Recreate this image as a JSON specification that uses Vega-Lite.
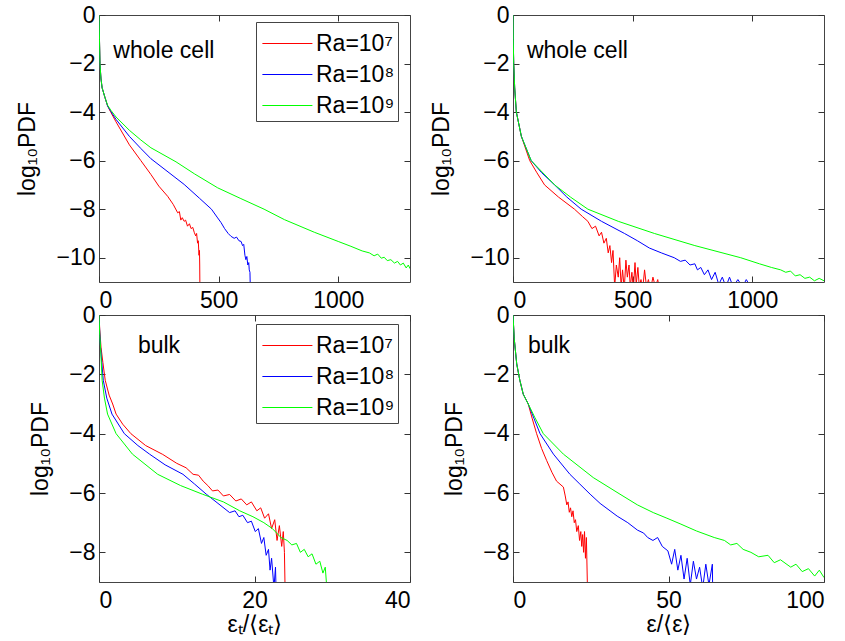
{
  "$schema": "https://vega.github.io/schema/vega-lite/v6.json",
  "background": "white",
  "padding": {"left": 16, "top": 3, "right": 10, "bottom": 3},
  "bounds": "flush",
  "columns": 2,
  "spacing": {"row": 33, "column": 103},
  "resolve": {"scale": {"color": "independent"}, "legend": {"color": "independent"}},
  "config": {
    "font": "Liberation Sans",
    "view": {"stroke": "#444", "strokeWidth": 1},
    "axis": {"labelFont": "Liberation Sans", "labelFontSize": 23, "labelColor": "#000", "titleFont": "Liberation Sans", "titleFontSize": 23, "titleFontWeight": "normal", "titleColor": "#000", "grid": false, "domain": false, "tickColor": "#333", "tickWidth": 1, "tickSize": -6, "labelExpr": "datum.value < 0 ? '−' + (-datum.value) : '' + datum.value"},
    "axisY": {"titlePadding": 16, "labelPadding": 10},
    "axisX": {"titlePadding": 1, "labelPadding": 13},
    "legend": {"labelFont": "Liberation Sans", "labelFontSize": 23, "labelColor": "#000"},
    "text": {"font": "Liberation Sans", "fontSize": 23}
  },
  "datasets": {
    "p1": [
      {"s":"Ra=10⁷","x":0,"y":0},{"s":"Ra=10⁷","x":2,"y":-1},{"s":"Ra=10⁷","x":4,"y":-2},{"s":"Ra=10⁷","x":8,"y":-2.6},{"s":"Ra=10⁷","x":13,"y":-3.0},{"s":"Ra=10⁷","x":25,"y":-3.4},{"s":"Ra=10⁷","x":36,"y":-3.75},{"s":"Ra=10⁷","x":50,"y":-4.02},{"s":"Ra=10⁷","x":71,"y":-4.4},{"s":"Ra=10⁷","x":127,"y":-5.35},{"s":"Ra=10⁷","x":175,"y":-6.0},{"s":"Ra=10⁷","x":217,"y":-6.57},{"s":"Ra=10⁷","x":250,"y":-7.05},{"s":"Ra=10⁷","x":287,"y":-7.47},{"s":"Ra=10⁷","x":310,"y":-7.8},{"s":"Ra=10⁷","x":329,"y":-8.15},{"s":"Ra=10⁷","x":336,"y":-8.1},{"s":"Ra=10⁷","x":342,"y":-8.45},{"s":"Ra=10⁷","x":348,"y":-8.35},{"s":"Ra=10⁷","x":356,"y":-8.5},{"s":"Ra=10⁷","x":362,"y":-8.45},{"s":"Ra=10⁷","x":370,"y":-8.7},{"s":"Ra=10⁷","x":378,"y":-8.6},{"s":"Ra=10⁷","x":385,"y":-8.8},{"s":"Ra=10⁷","x":392,"y":-8.75},{"s":"Ra=10⁷","x":398,"y":-8.95},{"s":"Ra=10⁷","x":404,"y":-9.1},{"s":"Ra=10⁷","x":408,"y":-9.0},{"s":"Ra=10⁷","x":412,"y":-9.4},{"s":"Ra=10⁷","x":415,"y":-9.3},{"s":"Ra=10⁷","x":418,"y":-9.9},{"s":"Ra=10⁷","x":420,"y":-9.7},{"s":"Ra=10⁷","x":421,"y":-10.3},{"s":"Ra=10⁷","x":422,"y":-11.5},
      {"s":"Ra=10⁸","x":0,"y":0},{"s":"Ra=10⁸","x":2,"y":-1},{"s":"Ra=10⁸","x":4,"y":-2},{"s":"Ra=10⁸","x":8,"y":-2.6},{"s":"Ra=10⁸","x":13,"y":-3.0},{"s":"Ra=10⁸","x":25,"y":-3.4},{"s":"Ra=10⁸","x":36,"y":-3.75},{"s":"Ra=10⁸","x":50,"y":-3.98},{"s":"Ra=10⁸","x":71,"y":-4.3},{"s":"Ra=10⁸","x":127,"y":-5.0},{"s":"Ra=10⁸","x":175,"y":-5.5},{"s":"Ra=10⁸","x":217,"y":-5.92},{"s":"Ra=10⁸","x":280,"y":-6.4},{"s":"Ra=10⁸","x":356,"y":-6.98},{"s":"Ra=10⁸","x":420,"y":-7.55},{"s":"Ra=10⁸","x":470,"y":-8.0},{"s":"Ra=10⁸","x":496,"y":-8.36},{"s":"Ra=10⁸","x":510,"y":-8.55},{"s":"Ra=10⁸","x":525,"y":-8.8},{"s":"Ra=10⁸","x":540,"y":-9.0},{"s":"Ra=10⁸","x":552,"y":-9.12},{"s":"Ra=10⁸","x":565,"y":-9.2},{"s":"Ra=10⁸","x":575,"y":-9.15},{"s":"Ra=10⁸","x":585,"y":-9.3},{"s":"Ra=10⁸","x":594,"y":-9.33},{"s":"Ra=10⁸","x":600,"y":-9.5},{"s":"Ra=10⁸","x":605,"y":-9.45},{"s":"Ra=10⁸","x":610,"y":-9.9},{"s":"Ra=10⁸","x":614,"y":-10.08},{"s":"Ra=10⁸","x":618,"y":-9.95},{"s":"Ra=10⁸","x":622,"y":-10.3},{"s":"Ra=10⁸","x":626,"y":-10.2},{"s":"Ra=10⁸","x":628,"y":-10.5},{"s":"Ra=10⁸","x":631,"y":-10.6},{"s":"Ra=10⁸","x":633,"y":-11.5},
      {"s":"Ra=10⁹","x":0,"y":0},{"s":"Ra=10⁹","x":2,"y":-1},{"s":"Ra=10⁹","x":4,"y":-2},{"s":"Ra=10⁹","x":8,"y":-2.6},{"s":"Ra=10⁹","x":13,"y":-3.0},{"s":"Ra=10⁹","x":25,"y":-3.4},{"s":"Ra=10⁹","x":36,"y":-3.72},{"s":"Ra=10⁹","x":50,"y":-3.93},{"s":"Ra=10⁹","x":71,"y":-4.2},{"s":"Ra=10⁹","x":127,"y":-4.75},{"s":"Ra=10⁹","x":175,"y":-5.15},{"s":"Ra=10⁹","x":217,"y":-5.47},{"s":"Ra=10⁹","x":322,"y":-6.05},{"s":"Ra=10⁹","x":400,"y":-6.55},{"s":"Ra=10⁹","x":496,"y":-7.12},{"s":"Ra=10⁹","x":590,"y":-7.55},{"s":"Ra=10⁹","x":690,"y":-8.0},{"s":"Ra=10⁹","x":775,"y":-8.43},{"s":"Ra=10⁹","x":900,"y":-8.95},{"s":"Ra=10⁹","x":1000,"y":-9.33},{"s":"Ra=10⁹","x":1053,"y":-9.53},{"s":"Ra=10⁹","x":1100,"y":-9.72},{"s":"Ra=10⁹","x":1130,"y":-9.8},{"s":"Ra=10⁹","x":1150,"y":-9.92},{"s":"Ra=10⁹","x":1165,"y":-9.85},{"s":"Ra=10⁹","x":1180,"y":-10.02},{"s":"Ra=10⁹","x":1192,"y":-9.98},{"s":"Ra=10⁹","x":1205,"y":-10.12},{"s":"Ra=10⁹","x":1220,"y":-10.08},{"s":"Ra=10⁹","x":1235,"y":-10.22},{"s":"Ra=10⁹","x":1248,"y":-10.15},{"s":"Ra=10⁹","x":1260,"y":-10.3},{"s":"Ra=10⁹","x":1272,"y":-10.22},{"s":"Ra=10⁹","x":1284,"y":-10.42},{"s":"Ra=10⁹","x":1293,"y":-10.3},{"s":"Ra=10⁹","x":1300,"y":-10.45}
    ],
    "p2": [
      {"s":"Ra=10⁷","x":0,"y":0},{"s":"Ra=10⁷","x":1,"y":-1},{"s":"Ra=10⁷","x":3,"y":-2},{"s":"Ra=10⁷","x":7,"y":-3},{"s":"Ra=10⁷","x":14,"y":-4},{"s":"Ra=10⁷","x":35,"y":-5},{"s":"Ra=10⁷","x":70,"y":-6},{"s":"Ra=10⁷","x":100,"y":-6.5},{"s":"Ra=10⁷","x":132,"y":-7},{"s":"Ra=10⁷","x":190,"y":-7.5},{"s":"Ra=10⁷","x":257,"y":-8},{"s":"Ra=10⁷","x":290,"y":-8.3},{"s":"Ra=10⁷","x":313,"y":-8.5},{"s":"Ra=10⁷","x":330,"y":-8.8},{"s":"Ra=10⁷","x":345,"y":-8.7},{"s":"Ra=10⁷","x":360,"y":-9.1},{"s":"Ra=10⁷","x":370,"y":-8.95},{"s":"Ra=10⁷","x":380,"y":-9.4},{"s":"Ra=10⁷","x":390,"y":-9.2},{"s":"Ra=10⁷","x":398,"y":-9.8},{"s":"Ra=10⁷","x":405,"y":-9.5},{"s":"Ra=10⁷","x":412,"y":-10.2},{"s":"Ra=10⁷","x":418,"y":-9.7},{"s":"Ra=10⁷","x":425,"y":-11.2},{"s":"Ra=10⁷","x":432,"y":-10.3},{"s":"Ra=10⁷","x":440,"y":-10.8},{"s":"Ra=10⁷","x":446,"y":-10.0},{"s":"Ra=10⁷","x":452,"y":-11.2},{"s":"Ra=10⁷","x":458,"y":-10.5},{"s":"Ra=10⁷","x":465,"y":-11.3},{"s":"Ra=10⁷","x":472,"y":-10.1},{"s":"Ra=10⁷","x":478,"y":-10.8},{"s":"Ra=10⁷","x":485,"y":-10.3},{"s":"Ra=10⁷","x":490,"y":-11.2},{"s":"Ra=10⁷","x":497,"y":-10.6},{"s":"Ra=10⁷","x":503,"y":-11.3},{"s":"Ra=10⁷","x":510,"y":-10.2},{"s":"Ra=10⁷","x":515,"y":-11.1},{"s":"Ra=10⁷","x":522,"y":-10.4},{"s":"Ra=10⁷","x":528,"y":-11.2},{"s":"Ra=10⁷","x":535,"y":-10.9},{"s":"Ra=10⁷","x":542,"y":-11.3},{"s":"Ra=10⁷","x":550,"y":-10.5},{"s":"Ra=10⁷","x":558,"y":-11.2},{"s":"Ra=10⁷","x":566,"y":-10.9},{"s":"Ra=10⁷","x":575,"y":-11.3},{"s":"Ra=10⁷","x":585,"y":-10.8},{"s":"Ra=10⁷","x":595,"y":-11.2},{"s":"Ra=10⁷","x":605,"y":-10.9},{"s":"Ra=10⁷","x":612,"y":-11.3},
      {"s":"Ra=10⁸","x":0,"y":0},{"s":"Ra=10⁸","x":1,"y":-1},{"s":"Ra=10⁸","x":3,"y":-2},{"s":"Ra=10⁸","x":7,"y":-3},{"s":"Ra=10⁸","x":14,"y":-4},{"s":"Ra=10⁸","x":35,"y":-5},{"s":"Ra=10⁸","x":76,"y":-6},{"s":"Ra=10⁸","x":120,"y":-6.5},{"s":"Ra=10⁸","x":174,"y":-7},{"s":"Ra=10⁸","x":225,"y":-7.5},{"s":"Ra=10⁸","x":285,"y":-8},{"s":"Ra=10⁸","x":370,"y":-8.5},{"s":"Ra=10⁸","x":466,"y":-9},{"s":"Ra=10⁸","x":520,"y":-9.3},{"s":"Ra=10⁸","x":570,"y":-9.6},{"s":"Ra=10⁸","x":620,"y":-9.8},{"s":"Ra=10⁸","x":674,"y":-10},{"s":"Ra=10⁸","x":700,"y":-10.15},{"s":"Ra=10⁸","x":720,"y":-10.1},{"s":"Ra=10⁸","x":740,"y":-10.3},{"s":"Ra=10⁸","x":760,"y":-10.25},{"s":"Ra=10⁸","x":771,"y":-10.5},{"s":"Ra=10⁸","x":785,"y":-10.4},{"s":"Ra=10⁸","x":800,"y":-10.7},{"s":"Ra=10⁸","x":815,"y":-10.5},{"s":"Ra=10⁸","x":830,"y":-10.9},{"s":"Ra=10⁸","x":845,"y":-10.6},{"s":"Ra=10⁸","x":860,"y":-11.1},{"s":"Ra=10⁸","x":875,"y":-10.8},{"s":"Ra=10⁸","x":890,"y":-11.2},{"s":"Ra=10⁸","x":905,"y":-10.8},{"s":"Ra=10⁸","x":920,"y":-11.2},{"s":"Ra=10⁸","x":940,"y":-10.9},{"s":"Ra=10⁸","x":960,"y":-11.2},{"s":"Ra=10⁸","x":975,"y":-10.9},{"s":"Ra=10⁸","x":994,"y":-11.2},
      {"s":"Ra=10⁹","x":0,"y":0},{"s":"Ra=10⁹","x":1,"y":-1},{"s":"Ra=10⁹","x":3,"y":-2},{"s":"Ra=10⁹","x":7,"y":-3},{"s":"Ra=10⁹","x":14,"y":-4},{"s":"Ra=10⁹","x":35,"y":-5},{"s":"Ra=10⁹","x":76,"y":-6},{"s":"Ra=10⁹","x":174,"y":-7},{"s":"Ra=10⁹","x":240,"y":-7.5},{"s":"Ra=10⁹","x":313,"y":-8},{"s":"Ra=10⁹","x":440,"y":-8.5},{"s":"Ra=10⁹","x":591,"y":-9},{"s":"Ra=10⁹","x":760,"y":-9.5},{"s":"Ra=10⁹","x":952,"y":-10},{"s":"Ra=10⁹","x":1030,"y":-10.25},{"s":"Ra=10⁹","x":1080,"y":-10.4},{"s":"Ra=10⁹","x":1119,"y":-10.5},{"s":"Ra=10⁹","x":1140,"y":-10.6},{"s":"Ra=10⁹","x":1160,"y":-10.55},{"s":"Ra=10⁹","x":1180,"y":-10.75},{"s":"Ra=10⁹","x":1200,"y":-10.7},{"s":"Ra=10⁹","x":1220,"y":-10.85},{"s":"Ra=10⁹","x":1240,"y":-10.8},{"s":"Ra=10⁹","x":1260,"y":-10.95},{"s":"Ra=10⁹","x":1280,"y":-10.85},{"s":"Ra=10⁹","x":1300,"y":-10.95}
    ],
    "p3": [
      {"s":"Ra=10⁷","x":0,"y":0},{"s":"Ra=10⁷","x":0.1,"y":-0.5},{"s":"Ra=10⁷","x":0.26,"y":-1.09},{"s":"Ra=10⁷","x":0.5,"y":-1.6},{"s":"Ra=10⁷","x":0.8,"y":-2.2},{"s":"Ra=10⁷","x":1.3,"y":-2.7},{"s":"Ra=10⁷","x":1.76,"y":-3.0},{"s":"Ra=10⁷","x":2.2,"y":-3.34},{"s":"Ra=10⁷","x":3.05,"y":-3.68},{"s":"Ra=10⁷","x":4.1,"y":-4.0},{"s":"Ra=10⁷","x":6,"y":-4.4},{"s":"Ra=10⁷","x":8.2,"y":-4.7},{"s":"Ra=10⁷","x":10,"y":-5.0},{"s":"Ra=10⁷","x":11.2,"y":-5.15},{"s":"Ra=10⁷","x":12.1,"y":-5.37},{"s":"Ra=10⁷","x":12.8,"y":-5.4},{"s":"Ra=10⁷","x":13.4,"y":-5.6},{"s":"Ra=10⁷","x":14,"y":-5.75},{"s":"Ra=10⁷","x":14.6,"y":-5.93},{"s":"Ra=10⁷","x":15.3,"y":-5.9},{"s":"Ra=10⁷","x":16,"y":-6.1},{"s":"Ra=10⁷","x":16.8,"y":-6.05},{"s":"Ra=10⁷","x":17.6,"y":-6.27},{"s":"Ra=10⁷","x":18.3,"y":-6.2},{"s":"Ra=10⁷","x":19,"y":-6.4},{"s":"Ra=10⁷","x":19.6,"y":-6.3},{"s":"Ra=10⁷","x":20.3,"y":-6.6},{"s":"Ra=10⁷","x":20.8,"y":-6.5},{"s":"Ra=10⁷","x":21.3,"y":-6.85},{"s":"Ra=10⁷","x":21.8,"y":-6.7},{"s":"Ra=10⁷","x":22.2,"y":-7.2},{"s":"Ra=10⁷","x":22.6,"y":-6.9},{"s":"Ra=10⁷","x":22.9,"y":-7.6},{"s":"Ra=10⁷","x":23.2,"y":-7.1},{"s":"Ra=10⁷","x":23.5,"y":-7.8},{"s":"Ra=10⁷","x":23.7,"y":-7.3},{"s":"Ra=10⁷","x":23.85,"y":-8.0},{"s":"Ra=10⁷","x":23.95,"y":-9.5},
      {"s":"Ra=10⁸","x":0,"y":0},{"s":"Ra=10⁸","x":0.1,"y":-0.6},{"s":"Ra=10⁸","x":0.2,"y":-1.09},{"s":"Ra=10⁸","x":0.55,"y":-2.2},{"s":"Ra=10⁸","x":1.0,"y":-2.8},{"s":"Ra=10⁸","x":1.67,"y":-3.34},{"s":"Ra=10⁸","x":3.26,"y":-4.0},{"s":"Ra=10⁸","x":5,"y":-4.4},{"s":"Ra=10⁸","x":6.5,"y":-4.69},{"s":"Ra=10⁸","x":8.5,"y":-5.05},{"s":"Ra=10⁸","x":10.8,"y":-5.37},{"s":"Ra=10⁸","x":12.3,"y":-5.7},{"s":"Ra=10⁸","x":13.8,"y":-6.04},{"s":"Ra=10⁸","x":15.3,"y":-6.35},{"s":"Ra=10⁸","x":16.8,"y":-6.66},{"s":"Ra=10⁸","x":17.5,"y":-6.6},{"s":"Ra=10⁸","x":18,"y":-6.8},{"s":"Ra=10⁸","x":18.5,"y":-6.75},{"s":"Ra=10⁸","x":19.1,"y":-7.0},{"s":"Ra=10⁸","x":19.6,"y":-6.95},{"s":"Ra=10⁸","x":20.1,"y":-7.3},{"s":"Ra=10⁸","x":20.5,"y":-7.2},{"s":"Ra=10⁸","x":20.9,"y":-7.7},{"s":"Ra=10⁸","x":21.2,"y":-7.5},{"s":"Ra=10⁸","x":21.5,"y":-8.1},{"s":"Ra=10⁸","x":21.8,"y":-7.9},{"s":"Ra=10⁸","x":22.0,"y":-8.6},{"s":"Ra=10⁸","x":22.2,"y":-8.2},{"s":"Ra=10⁸","x":22.5,"y":-9.2},{"s":"Ra=10⁸","x":22.7,"y":-8.5},{"s":"Ra=10⁸","x":22.8,"y":-9.5},
      {"s":"Ra=10⁹","x":0,"y":0},{"s":"Ra=10⁹","x":0.1,"y":-0.7},{"s":"Ra=10⁹","x":0.2,"y":-1.09},{"s":"Ra=10⁹","x":0.4,"y":-2.2},{"s":"Ra=10⁹","x":0.7,"y":-2.8},{"s":"Ra=10⁹","x":1.1,"y":-3.34},{"s":"Ra=10⁹","x":2.2,"y":-4.0},{"s":"Ra=10⁹","x":4.3,"y":-4.69},{"s":"Ra=10⁹","x":7.55,"y":-5.37},{"s":"Ra=10⁹","x":10.5,"y":-5.75},{"s":"Ra=10⁹","x":13.3,"y":-6.04},{"s":"Ra=10⁹","x":16,"y":-6.3},{"s":"Ra=10⁹","x":18.1,"y":-6.6},{"s":"Ra=10⁹","x":19.8,"y":-6.8},{"s":"Ra=10⁹","x":21.2,"y":-7.0},{"s":"Ra=10⁹","x":22.3,"y":-7.2},{"s":"Ra=10⁹","x":23.4,"y":-7.5},{"s":"Ra=10⁹","x":24.2,"y":-7.6},{"s":"Ra=10⁹","x":24.8,"y":-7.75},{"s":"Ra=10⁹","x":25.4,"y":-7.7},{"s":"Ra=10⁹","x":25.9,"y":-8.0},{"s":"Ra=10⁹","x":26.4,"y":-7.9},{"s":"Ra=10⁹","x":26.9,"y":-8.15},{"s":"Ra=10⁹","x":27.4,"y":-8.05},{"s":"Ra=10⁹","x":27.9,"y":-8.4},{"s":"Ra=10⁹","x":28.4,"y":-8.3},{"s":"Ra=10⁹","x":28.8,"y":-8.7},{"s":"Ra=10⁹","x":29.1,"y":-8.5},{"s":"Ra=10⁹","x":29.3,"y":-9.2}
    ],
    "p4": [
      {"s":"Ra=10⁷","x":0,"y":0},{"s":"Ra=10⁷","x":0.4,"y":-0.8},{"s":"Ra=10⁷","x":1.2,"y":-1.65},{"s":"Ra=10⁷","x":2.2,"y":-2.2},{"s":"Ra=10⁷","x":3.3,"y":-2.67},{"s":"Ra=10⁷","x":4.9,"y":-3.0},{"s":"Ra=10⁷","x":6.2,"y":-3.5},{"s":"Ra=10⁷","x":7.6,"y":-4.0},{"s":"Ra=10⁷","x":9.2,"y":-4.5},{"s":"Ra=10⁷","x":10.8,"y":-4.9},{"s":"Ra=10⁷","x":12.5,"y":-5.3},{"s":"Ra=10⁷","x":14,"y":-5.6},{"s":"Ra=10⁷","x":16.2,"y":-5.8},{"s":"Ra=10⁷","x":16.8,"y":-6.1},{"s":"Ra=10⁷","x":17.3,"y":-6.4},{"s":"Ra=10⁷","x":17.7,"y":-6.3},{"s":"Ra=10⁷","x":18.1,"y":-6.65},{"s":"Ra=10⁷","x":18.5,"y":-6.5},{"s":"Ra=10⁷","x":18.9,"y":-6.8},{"s":"Ra=10⁷","x":19.3,"y":-6.6},{"s":"Ra=10⁷","x":19.7,"y":-7.0},{"s":"Ra=10⁷","x":20.1,"y":-6.9},{"s":"Ra=10⁷","x":20.5,"y":-7.3},{"s":"Ra=10⁷","x":21,"y":-7.1},{"s":"Ra=10⁷","x":21.4,"y":-7.6},{"s":"Ra=10⁷","x":21.8,"y":-7.3},{"s":"Ra=10⁷","x":22.1,"y":-7.8},{"s":"Ra=10⁷","x":22.4,"y":-7.4},{"s":"Ra=10⁷","x":22.7,"y":-8.0},{"s":"Ra=10⁷","x":23,"y":-7.3},{"s":"Ra=10⁷","x":23.3,"y":-8.2},{"s":"Ra=10⁷","x":23.6,"y":-7.5},{"s":"Ra=10⁷","x":24.0,"y":-9.5},
      {"s":"Ra=10⁸","x":0,"y":0},{"s":"Ra=10⁸","x":0.4,"y":-0.8},{"s":"Ra=10⁸","x":1.2,"y":-1.65},{"s":"Ra=10⁸","x":2.2,"y":-2.2},{"s":"Ra=10⁸","x":3.3,"y":-2.67},{"s":"Ra=10⁸","x":4.9,"y":-3.0},{"s":"Ra=10⁸","x":6.8,"y":-3.5},{"s":"Ra=10⁸","x":8.7,"y":-4.0},{"s":"Ra=10⁸","x":13,"y":-4.69},{"s":"Ra=10⁸","x":18.3,"y":-5.37},{"s":"Ra=10⁸","x":21.5,"y":-5.7},{"s":"Ra=10⁸","x":24.8,"y":-6.04},{"s":"Ra=10⁸","x":28,"y":-6.35},{"s":"Ra=10⁸","x":31.2,"y":-6.6},{"s":"Ra=10⁸","x":33.5,"y":-6.78},{"s":"Ra=10⁸","x":36.9,"y":-7.0},{"s":"Ra=10⁸","x":40,"y":-7.25},{"s":"Ra=10⁸","x":42,"y":-7.35},{"s":"Ra=10⁸","x":43.3,"y":-7.5},{"s":"Ra=10⁸","x":45,"y":-7.6},{"s":"Ra=10⁸","x":46.5,"y":-7.5},{"s":"Ra=10⁸","x":48,"y":-7.8},{"s":"Ra=10⁸","x":49.8,"y":-7.95},{"s":"Ra=10⁸","x":51,"y":-8.4},{"s":"Ra=10⁸","x":52,"y":-7.9},{"s":"Ra=10⁸","x":53,"y":-8.6},{"s":"Ra=10⁸","x":54,"y":-8.1},{"s":"Ra=10⁸","x":55,"y":-8.9},{"s":"Ra=10⁸","x":56,"y":-8.2},{"s":"Ra=10⁸","x":57,"y":-9.1},{"s":"Ra=10⁸","x":58,"y":-8.3},{"s":"Ra=10⁸","x":59,"y":-8.9},{"s":"Ra=10⁸","x":60,"y":-8.5},{"s":"Ra=10⁸","x":61,"y":-9.2},{"s":"Ra=10⁸","x":62,"y":-8.4},{"s":"Ra=10⁸","x":63,"y":-9.1},{"s":"Ra=10⁸","x":64.1,"y":-8.4},{"s":"Ra=10⁸","x":64.2,"y":-9.2},
      {"s":"Ra=10⁹","x":0,"y":0},{"s":"Ra=10⁹","x":0.4,"y":-0.8},{"s":"Ra=10⁹","x":1.2,"y":-1.65},{"s":"Ra=10⁹","x":2.2,"y":-2.2},{"s":"Ra=10⁹","x":3.3,"y":-2.67},{"s":"Ra=10⁹","x":4.9,"y":-3.0},{"s":"Ra=10⁹","x":7,"y":-3.45},{"s":"Ra=10⁹","x":9.75,"y":-4.0},{"s":"Ra=10⁹","x":16.2,"y":-4.69},{"s":"Ra=10⁹","x":25.8,"y":-5.48},{"s":"Ra=10⁹","x":34.4,"y":-6.04},{"s":"Ra=10⁹","x":40,"y":-6.4},{"s":"Ra=10⁹","x":45.1,"y":-6.66},{"s":"Ra=10⁹","x":49.5,"y":-6.85},{"s":"Ra=10⁹","x":54,"y":-7.05},{"s":"Ra=10⁹","x":59,"y":-7.28},{"s":"Ra=10⁹","x":64.7,"y":-7.5},{"s":"Ra=10⁹","x":68,"y":-7.6},{"s":"Ra=10⁹","x":70,"y":-7.75},{"s":"Ra=10⁹","x":72,"y":-7.7},{"s":"Ra=10⁹","x":74,"y":-7.9},{"s":"Ra=10⁹","x":76.5,"y":-8.0},{"s":"Ra=10⁹","x":79,"y":-8.15},{"s":"Ra=10⁹","x":82,"y":-8.1},{"s":"Ra=10⁹","x":84,"y":-8.35},{"s":"Ra=10⁹","x":86,"y":-8.25},{"s":"Ra=10⁹","x":89.3,"y":-8.5},{"s":"Ra=10⁹","x":91,"y":-8.4},{"s":"Ra=10⁹","x":93,"y":-8.65},{"s":"Ra=10⁹","x":95,"y":-8.55},{"s":"Ra=10⁹","x":97,"y":-8.8},{"s":"Ra=10⁹","x":98.5,"y":-8.6},{"s":"Ra=10⁹","x":100,"y":-8.85}
    ]
  },
  "concat": [
    {
      "width": 311, "height": 267,
      "layer": [
        {
          "data": {"name": "p1"},
          "mark": {"type": "line", "clip": true, "strokeWidth": 1},
          "encoding": {
            "x": {"field": "x", "type": "quantitative", "scale": {"domain": [0, 1300], "nice": false, "zero": false}, "axis": {"values": [0, 500, 1000], "title": null}},
            "y": {"field": "y", "type": "quantitative", "scale": {"domain": [-11, 0], "nice": false, "zero": false}, "axis": {"values": [-10, -8, -6, -4, -2, 0], "title": "log₁₀PDF"}},
            "color": {"field": "s", "type": "nominal", "scale": {"domain": ["Ra=10⁷", "Ra=10⁸", "Ra=10⁹"], "range": ["#ff0000", "#0000ff", "#00ff00"]},
              "legend": {"orient": "none", "legendX": 157, "legendY": 7, "title": null, "symbolType": "M-0.84,0H1.94", "symbolSize": 1296, "symbolStrokeWidth": 1, "labelOffset": 20, "padding": 3, "rowPadding": 0, "strokeColor": "#444", "fillColor": "white"}}
          }
        },
        {
          "data": {"values": [{"x": 60, "y": -1.5, "t": "whole cell"}]},
          "mark": {"type": "text", "align": "left", "baseline": "middle", "fontSize": 23},
          "encoding": {
            "x": {"field": "x", "type": "quantitative", "scale": {"domain": [0, 1300], "nice": false, "zero": false}, "axis": {"orient": "top", "values": [0, 500, 1000], "labels": false, "title": null}},
            "y": {"field": "y", "type": "quantitative", "scale": {"domain": [-11, 0], "nice": false, "zero": false}, "axis": {"orient": "right", "values": [-10, -8, -6, -4, -2, 0], "labels": false, "title": null}},
            "text": {"field": "t"}
          }
        }
      ],
      "resolve": {"axis": {"x": "independent", "y": "independent"}}
    },
    {
      "width": 311, "height": 267,
      "layer": [
        {
          "data": {"name": "p2"},
          "mark": {"type": "line", "clip": true, "strokeWidth": 1},
          "encoding": {
            "x": {"field": "x", "type": "quantitative", "scale": {"domain": [0, 1300], "nice": false, "zero": false}, "axis": {"values": [0, 500, 1000], "title": null}},
            "y": {"field": "y", "type": "quantitative", "scale": {"domain": [-11, 0], "nice": false, "zero": false}, "axis": {"values": [-10, -8, -6, -4, -2, 0], "title": "log₁₀PDF"}},
            "color": {"field": "s", "type": "nominal", "scale": {"domain": ["Ra=10⁷", "Ra=10⁸", "Ra=10⁹"], "range": ["#ff0000", "#0000ff", "#00ff00"]}, "legend": null}
          }
        },
        {
          "data": {"values": [{"x": 58, "y": -1.5, "t": "whole cell"}]},
          "mark": {"type": "text", "align": "left", "baseline": "middle", "fontSize": 23},
          "encoding": {
            "x": {"field": "x", "type": "quantitative", "scale": {"domain": [0, 1300], "nice": false, "zero": false}, "axis": {"orient": "top", "values": [0, 500, 1000], "labels": false, "title": null}},
            "y": {"field": "y", "type": "quantitative", "scale": {"domain": [-11, 0], "nice": false, "zero": false}, "axis": {"orient": "right", "values": [-10, -8, -6, -4, -2, 0], "labels": false, "title": null}},
            "text": {"field": "t"}
          }
        }
      ],
      "resolve": {"axis": {"x": "independent", "y": "independent"}}
    },
    {
      "width": 311, "height": 267,
      "layer": [
        {
          "data": {"name": "p3"},
          "mark": {"type": "line", "clip": true, "strokeWidth": 1},
          "encoding": {
            "x": {"field": "x", "type": "quantitative", "scale": {"domain": [0, 40], "nice": false, "zero": false}, "axis": {"values": [0, 20, 40], "title": "εₜ/⟨εₜ⟩"}},
            "y": {"field": "y", "type": "quantitative", "scale": {"domain": [-9, 0], "nice": false, "zero": false}, "axis": {"values": [-8, -6, -4, -2, 0], "title": "log₁₀PDF"}},
            "color": {"field": "s", "type": "nominal", "scale": {"domain": ["Ra=10⁷", "Ra=10⁸", "Ra=10⁹"], "range": ["#ff0000", "#0000ff", "#00ff00"]},
              "legend": {"orient": "none", "legendX": 157, "legendY": 9, "title": null, "symbolType": "M-0.84,0H1.94", "symbolSize": 1296, "symbolStrokeWidth": 1, "labelOffset": 20, "padding": 3, "rowPadding": 0, "strokeColor": "#444", "fillColor": "white"}}
          }
        },
        {
          "data": {"values": [{"x": 5, "y": -1.05, "t": "bulk"}]},
          "mark": {"type": "text", "align": "left", "baseline": "middle", "fontSize": 23},
          "encoding": {
            "x": {"field": "x", "type": "quantitative", "scale": {"domain": [0, 40], "nice": false, "zero": false}, "axis": {"orient": "top", "values": [0, 20, 40], "labels": false, "title": null}},
            "y": {"field": "y", "type": "quantitative", "scale": {"domain": [-9, 0], "nice": false, "zero": false}, "axis": {"orient": "right", "values": [-8, -6, -4, -2, 0], "labels": false, "title": null}},
            "text": {"field": "t"}
          }
        }
      ],
      "resolve": {"axis": {"x": "independent", "y": "independent"}}
    },
    {
      "width": 311, "height": 267,
      "layer": [
        {
          "data": {"name": "p4"},
          "mark": {"type": "line", "clip": true, "strokeWidth": 1},
          "encoding": {
            "x": {"field": "x", "type": "quantitative", "scale": {"domain": [0, 100], "nice": false, "zero": false}, "axis": {"values": [0, 50, 100], "title": "ε/⟨ε⟩"}},
            "y": {"field": "y", "type": "quantitative", "scale": {"domain": [-9, 0], "nice": false, "zero": false}, "axis": {"values": [-8, -6, -4, -2, 0], "title": "log₁₀PDF"}},
            "color": {"field": "s", "type": "nominal", "scale": {"domain": ["Ra=10⁷", "Ra=10⁸", "Ra=10⁹"], "range": ["#ff0000", "#0000ff", "#00ff00"]}, "legend": null}
          }
        },
        {
          "data": {"values": [{"x": 4.8, "y": -1.05, "t": "bulk"}]},
          "mark": {"type": "text", "align": "left", "baseline": "middle", "fontSize": 23},
          "encoding": {
            "x": {"field": "x", "type": "quantitative", "scale": {"domain": [0, 100], "nice": false, "zero": false}, "axis": {"orient": "top", "values": [0, 50, 100], "labels": false, "title": null}},
            "y": {"field": "y", "type": "quantitative", "scale": {"domain": [-9, 0], "nice": false, "zero": false}, "axis": {"orient": "right", "values": [-8, -6, -4, -2, 0], "labels": false, "title": null}},
            "text": {"field": "t"}
          }
        }
      ],
      "resolve": {"axis": {"x": "independent", "y": "independent"}}
    }
  ]
}
